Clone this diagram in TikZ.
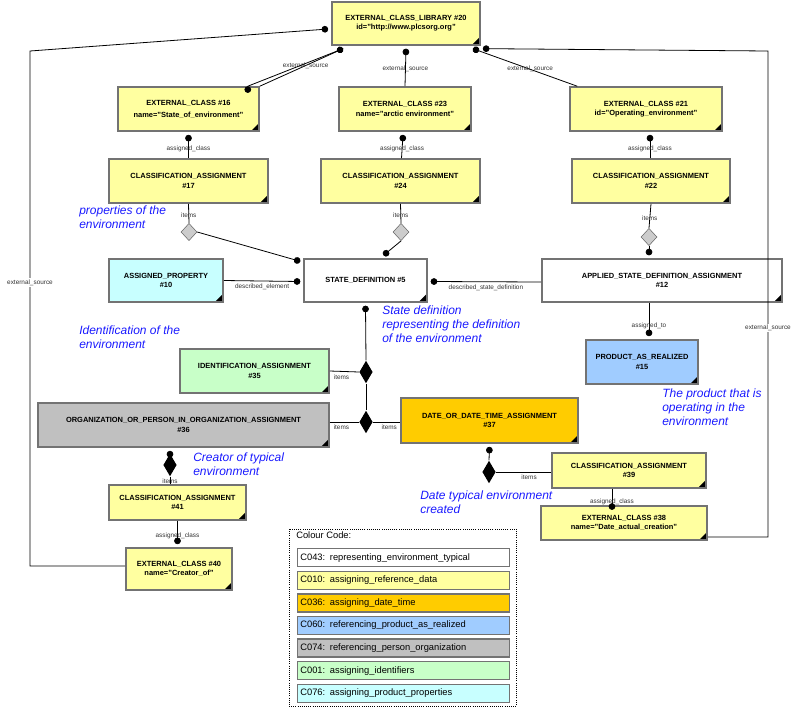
\documentclass[tikz,border=0pt]{standalone}
\usepackage{fontspec}
\setmainfont{Liberation Sans}
\usetikzlibrary{arrows.meta,shapes.geometric,calc}
\definecolor{yel}{HTML}{FFFFA0}
\definecolor{cya}{HTML}{C8FFFF}
\definecolor{grn}{HTML}{C8FFC8}
\definecolor{blu}{HTML}{A0CCFF}
\definecolor{gry}{HTML}{C0C0C0}
\definecolor{org}{HTML}{FFCC00}
\definecolor{note}{HTML}{1A1AFF}
\tikzset{
  ent/.style={draw=black!55, line width=1.2pt, align=center, inner sep=1pt,
    font=\fontsize{5.6}{7}\selectfont\bfseries,
    path picture={\fill[black] (path picture bounding box.south east) -- ++(-6pt,0) -- ++(6pt,6pt) -- cycle;}},
  rel/.style={line width=0.6pt},
  lbl/.style={font=\fontsize{4.8}{5}\selectfont, text=black!80, inner sep=1pt},
  hd/.style={diamond, draw=black!60, fill=black!20, minimum width=12pt, minimum height=13pt, inner sep=0pt},
  bd/.style={diamond, fill=black, minimum width=10pt, minimum height=17pt, inner sep=0pt},
  nt/.style={font=\fontsize{9}{10.5}\selectfont\itshape, text=note, align=left, anchor=north west, inner sep=0pt},
  leg/.style={draw=black!55, line width=1pt, minimum width=159pt, minimum height=13.5pt, anchor=north west,
    text width=155pt, inner sep=2pt, font=\fontsize{7}{8}\selectfont}
}
\begin{document}
\begin{tikzpicture}[x=0.75pt,y=-0.75pt]
\useasboundingbox (0,0) rectangle (797,708);

% entities
\node[ent,fill=yel,minimum width=111pt,minimum height=32pt] (ecl20) at (406,23.5) {EXTERNAL\_CLASS\_LIBRARY \#20\\id="http://www.plcsorg.org"};
\node[ent,fill=yel,minimum width=105.75pt,minimum height=33pt] (ec16) at (188.5,109) {EXTERNAL\_CLASS \#16\\[2pt]name="State\_of\_environment"};
\node[ent,fill=yel,minimum width=99pt,minimum height=33pt] (ec23) at (405,109) {EXTERNAL\_CLASS \#23\\name="arctic environment"};
\node[ent,fill=yel,minimum width=114pt,minimum height=33pt] (ec21) at (646,109) {EXTERNAL\_CLASS \#21\\id="Operating\_environment"};
\node[ent,fill=yel,minimum width=119pt,minimum height=33pt] (ca17) at (188.5,181) {CLASSIFICATION\_ASSIGNMENT\\\#17};
\node[ent,fill=yel,minimum width=119pt,minimum height=33pt] (ca24) at (400.5,181) {CLASSIFICATION\_ASSIGNMENT\\\#24};
\node[ent,fill=yel,minimum width=118.5pt,minimum height=33pt] (ca22) at (651,181) {CLASSIFICATION\_ASSIGNMENT\\\#22};
\node[ent,fill=cya,minimum width=85.5pt,minimum height=32pt] (ap10) at (166,280.5) {ASSIGNED\_PROPERTY\\\#10};
\node[ent,fill=white,minimum width=92pt,minimum height=32pt] (sd5) at (365.5,280.5) {STATE\_DEFINITION \#5};
\node[ent,fill=white,minimum width=180pt,minimum height=32pt] (asda12) at (662,280.5) {APPLIED\_STATE\_DEFINITION\_ASSIGNMENT\\\#12};
\node[ent,fill=blu,minimum width=84pt,minimum height=33pt] (par15) at (642,362) {PRODUCT\_AS\_REALIZED\\\#15};
\node[ent,fill=grn,minimum width=111.75pt,minimum height=33pt] (ia35) at (254.5,371) {IDENTIFICATION\_ASSIGNMENT\\\#35};
\node[ent,fill=gry,minimum width=218pt,minimum height=33pt] (opoa36) at (183.5,425) {ORGANIZATION\_OR\_PERSON\_IN\_ORGANIZATION\_ASSIGNMENT\\\#36};
\node[ent,fill=org,minimum width=132.75pt,minimum height=33.75pt] (ddta37) at (489.5,420.5) {DATE\_OR\_DATE\_TIME\_ASSIGNMENT\\\#37};
\node[ent,fill=yel,minimum width=115.5pt,minimum height=26pt] (ca39) at (629,470.5) {CLASSIFICATION\_ASSIGNMENT\\\#39};
\node[ent,fill=yel,minimum width=124.5pt,minimum height=25.5pt] (ec38) at (624,523) {EXTERNAL\_CLASS \#38\\name="Date\_actual\_creation"};
\node[ent,fill=yel,minimum width=102.75pt,minimum height=26pt] (ca41) at (177.5,502.5) {CLASSIFICATION\_ASSIGNMENT\\\#41};
\node[ent,fill=yel,minimum width=79.5pt,minimum height=31.5pt] (ec40) at (179,569) {EXTERNAL\_CLASS \#40\\name="Creator\_of"};

% diamonds
\node[hd] (d17) at (189,232) {};
\node[hd] (d24) at (401,232) {};
\node[hd] (d22) at (649,237) {};
\node[bd] (d35) at (366,372) {};
\node[bd] (d36) at (366,422) {};
\node[bd] (d37) at (489,472) {};
\node[bd] (d41) at (170,465) {};

% external_source
\coordinate (l1) at (30,51);
\coordinate (l2) at (30,566);
\coordinate (r1) at (768,51);
\coordinate (r2) at (768,537);
\draw[rel,{Circle[length=5pt]}-] (ecl20.west |- 0,29) ++(-3,0) -- (l1) -- node[lbl,pos=0.45,fill=white]{external\_source} (l2) -- (ec40.west |- l2);
\draw[rel,{Circle[length=5pt]}-] (ecl20.south east) ++(2,3) -- (r1) -- node[lbl,pos=0.57,fill=white]{external\_source} (r2) -- (ec38.east |- r2);
\draw[rel,{Circle[length=5pt]}-] (ecl20.south west) ++(12,3) -- node[lbl,pos=0.45]{external\_source} (ec16.north east) ++(-12,0);
\draw[rel,{Circle[length=5pt]}-] (ecl20.south west) ++(12,3) -- ($(ec16.north east)+(-12,0)$);
\draw[rel,{Circle[length=5pt]}-] (ecl20.south) ++(0,3) -- node[lbl,pos=0.55]{external\_source} (ec23.north);
\draw[rel,{Circle[length=5pt]}-] (ecl20.south east) ++(-8,3) -- node[lbl,pos=0.55]{external\_source} ($(ec21.north west)+(8,0)$);

% assigned_class
\draw[rel,{Circle[length=5pt]}-] (ec16.south) ++(0,3) -- node[lbl,pos=0.6]{assigned\_class} (ca17.north);
\draw[rel,{Circle[length=5pt]}-] (ec23.south) ++(-2,3) -- node[lbl,pos=0.6]{assigned\_class} ($(ca24.north)+(1,0)$);
\draw[rel,{Circle[length=5pt]}-] (ec21.south) ++(4,3) -- node[lbl,pos=0.6]{assigned\_class} ($(ca22.north)+(-1,0)$);

% items to state definition
\draw[rel] (ca17.south) -- node[lbl,pos=0.6]{items} (d17.north);
\draw[rel] (ca24.south) -- node[lbl,pos=0.6]{items} (d24.north);
\draw[rel] (ca22.south) -- node[lbl,pos=0.6]{items} (d22.north);
\draw[rel,-{Circle[length=5pt]}] (d17.east) -- ($(sd5.north west)+(-3,3)$);
\draw[rel,-{Circle[length=5pt]}] (d24.south) -- ($(sd5.north)+(18,-3)$);
\draw[rel,-{Circle[length=5pt]}] (d22.south) -- ($(asda12.north)+(-13,-3)$);
\draw[rel,-{Circle[length=5pt]}] (ap10.east) -- node[lbl,below=1pt]{described\_element} ($(sd5.west)+(-3,1)$);
\draw[rel,{Circle[length=5pt]}-] ($(sd5.east)+(3,1)$) -- node[lbl,below=1pt]{described\_state\_definition} (asda12.west |- 0,282);
\draw[rel,-{Circle[length=5pt]}] (asda12.south -| par15.north) ++(7,0) -- node[lbl,pos=0.7]{assigned\_to} ($(par15.north)+(7,-3)$);

% state definition assignments
\draw[rel,{Circle[length=5pt]}-] (sd5.south) ++(0,3) -- (d35.north);
\draw[rel] (d35.south) -- (d36.north);
\draw[rel] (ia35.east) -- node[lbl,below=1pt,pos=0.4]{items} (d35.west);
\draw[rel] (opoa36.east |- d36) -- node[lbl,below=1pt,pos=0.4]{items} (d36.west);
\draw[rel] (d36.east) -- node[lbl,below=1pt,pos=0.6]{items} (ddta37.west |- d36);
\draw[rel,{Circle[length=5pt]}-] (ddta37.south) ++(0,3) -- (d37.north);
\draw[rel] (d37.east) -- node[lbl,below=1pt,pos=0.6]{items} (ca39.west |- d37);
\draw[rel,-{Circle[length=5pt]}] (ca39.south -| 612,0) -- node[lbl,pos=0.8]{assigned\_class} (ec38.north -| 612,0) ++(0,-2);
\draw[rel,{Circle[length=5pt]}-] (opoa36.south -| d41) ++(0,3) -- (d41.north);
\draw[rel] (d41.south) -- node[lbl,pos=0.6]{items} (ca41.north -| d41);
\draw[rel,-{Circle[length=5pt]}] (ca41.south) -- node[lbl,pos=0.65]{assigned\_class} ($(ec40.north)+(-1.5,-3)$);

% notes
\node[nt] (n1) at (79,206) {properties of the\\environment};
\node[nt] (n2) at (79,326) {Identification of the\\environment};
\node[nt] (n3) at (382,306) {State definition\\representing the definition\\of the environment};
\node[nt] (n4) at (662,389) {The product that is\\operating in the\\environment};
\node[nt] (n5) at (193,453) {Creator of typical\\environment};
\node[nt] (n6) at (420,491) {Date typical environment\\created};

% colour code
\draw[densely dotted,line width=0.6pt] (289,529) rectangle (516,706);
\node[anchor=north west,inner sep=0pt,font=\fontsize{7}{8}\selectfont] (cc) at (296,531) {Colour Code:};
\foreach \c/\t [count=\i from 0] in {white/C043: representing\_environment\_typical,
  yel/C010: assigning\_reference\_data, org/C036: assigning\_date\_time,
  blu/C060: referencing\_product\_as\_realized, gry/C074: referencing\_person\_organization,
  grn/C001: assigning\_identifiers, cya/C076: assigning\_product\_properties}
  \node[leg,fill=\c] (leg\i) at (297,548+22.6*\i) {\t};
\end{tikzpicture}
\end{document}
